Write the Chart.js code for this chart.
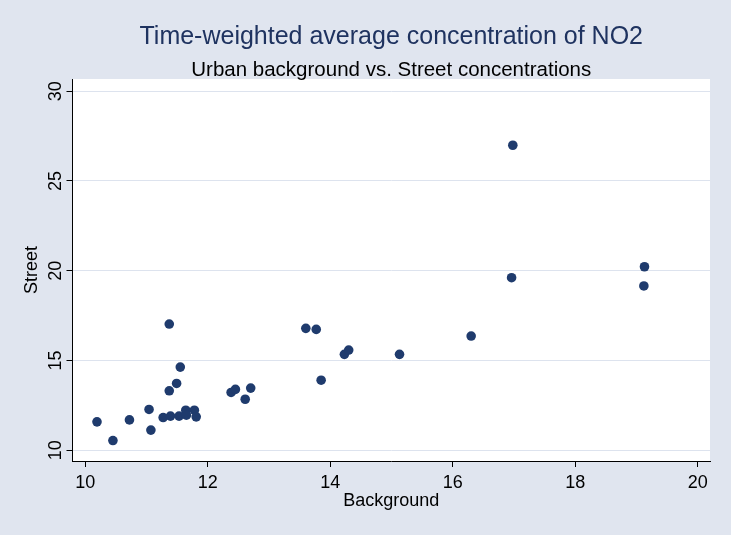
<!DOCTYPE html>
<html>
<head>
<meta charset="utf-8">
<script src="https://cdn.jsdelivr.net/npm/chart.js@4.4.1/dist/chart.umd.min.js"></script>
<style>
html, body { margin: 0; padding: 0; background: #e0e5ef; }
#wrap { width: 731px; height: 535px; }
</style>
</head>
<body>
<div id="wrap"><canvas id="myChart" width="731" height="535"></canvas></div>
<script>
// readings
const background = [10.19, 10.45, 10.72, 11.04, 11.07, 11.27, 11.39, 11.53, 11.64, 11.65,
  11.78, 11.81, 11.37, 11.55, 11.49, 11.37, 12.38, 12.45, 12.70, 12.61,
  13.60, 13.77, 14.23, 14.30, 13.85, 15.13, 16.30, 16.98, 16.96, 19.13, 19.12];
const street = [11.58, 10.54, 11.69, 12.27, 11.12, 11.82, 11.90, 11.90, 12.23, 11.95,
  12.23, 11.86, 17.03, 14.63, 13.72, 13.31, 13.22, 13.39, 13.46, 12.84,
  16.79, 16.73, 15.34, 15.58, 13.90, 15.34, 16.36, 26.99, 19.61, 20.22, 19.15];

const xTicks = [10, 12, 14, 16, 18, 20];
const yTicks = [10, 15, 20, 25, 30];

const title = "Time-weighted average concentration of NO2";
const subtitle = "Urban background vs. Street concentrations";
const xTitle = "Background";
const yTitle = "Street";

const FONT = "'Liberation Sans', Arial, Helvetica, sans-serif";

const points = background.map((b, i) => ({ x: b, y: street[i] }));

// white plot region + titles + rotated y labels
const stataLook = {
  id: "stataLook",
  beforeDraw(chart) {
    const { ctx, chartArea } = chart;
    ctx.save();
    ctx.fillStyle = "#e0e5ef";
    ctx.fillRect(0, 0, chart.width, chart.height);
    ctx.fillStyle = "#ffffff";
    ctx.fillRect(chartArea.left, chartArea.top, chartArea.right - chartArea.left, chartArea.bottom - chartArea.top);
    ctx.restore();
  },
  afterDraw(chart) {
    const { ctx, chartArea } = chart;
    const cx = (chartArea.left + chartArea.right) / 2;
    ctx.save();
    ctx.textAlign = "center";
    ctx.textBaseline = "alphabetic";
    ctx.fillStyle = "#1f3360";
    ctx.font = "25px " + FONT;
    ctx.fillText(title, cx, 44);
    ctx.fillStyle = "#000000";
    ctx.font = "20.5px " + FONT;
    ctx.fillText(subtitle, cx, 76);

    const ys = chart.scales.y;
    ctx.font = "18px " + FONT;
    yTicks.forEach(v => {
      ctx.save();
      ctx.translate(60.5, ys.getPixelForValue(v));
      ctx.rotate(-Math.PI / 2);
      ctx.fillText(String(v), 0, 0);
      ctx.restore();
    });
    ctx.restore();
  }
};

const config = {
  type: "scatter",
  data: {
    datasets: [{
      label: "Street",
      data: points,
      backgroundColor: "#1f3b6d",
      borderColor: "#1f3b6d",
      borderWidth: 0,
      pointRadius: 4.8,
      pointHoverRadius: 4.8
    }]
  },
  options: {
    responsive: false,
    animation: false,
    events: [],
    layout: { padding: { top: 79, right: 21, bottom: 0, left: 0 } },
    plugins: {
      legend: { display: false },
      tooltip: { enabled: false }
    },
    scales: {
      x: {
        type: "linear",
        min: 9.79,
        max: 20.2,
        afterBuildTicks: s => { s.ticks = xTicks.map(v => ({ value: v })); },
        afterFit: s => { s.height = 535 - 461; },
        border: { display: true, color: "#000000", width: 1 },
        grid: { drawOnChartArea: false, drawTicks: true, tickLength: 6, tickColor: "#000000" },
        ticks: { color: "#000000", font: { family: FONT, size: 18 }, padding: 5, maxRotation: 0 },
        title: { display: true, text: xTitle, color: "#000000", font: { family: FONT, size: 18 }, padding: { top: 0, bottom: 23.6 } }
      },
      y: {
        type: "linear",
        min: 9.4,
        max: 30.68,
        afterBuildTicks: s => { s.ticks = yTicks.map(v => ({ value: v })); },
        afterFit: s => { s.width = 72.5; },
        border: { display: true, color: "#000000", width: 1 },
        grid: { color: "#dde3ee", lineWidth: 1, drawTicks: true, tickLength: 6, tickColor: "#000000" },
        ticks: { display: false },
        title: { display: true, text: yTitle, color: "#000000", font: { family: FONT, size: 18 }, padding: { top: 21.5, bottom: 0 } }
      }
    }
  },
  plugins: [stataLook]
};

const myChart = document.getElementById("myChart");
new Chart(myChart, config);
</script>
</body>
</html>
